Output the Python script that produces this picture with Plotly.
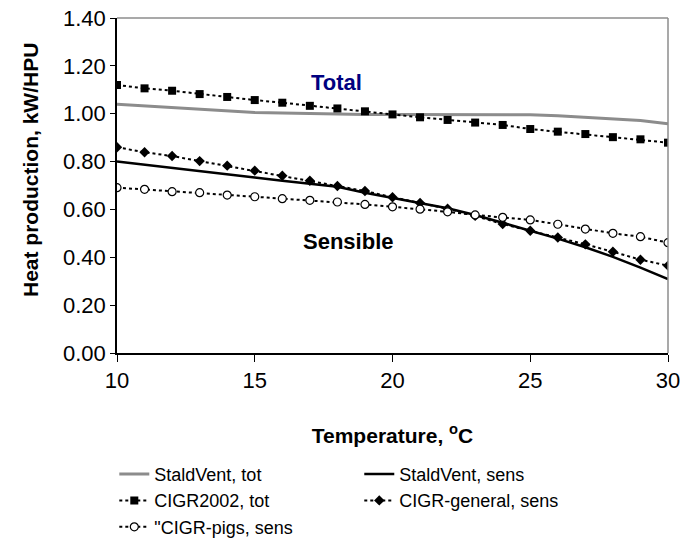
import plotly.graph_objects as go

temps = list(range(10, 31))

staldvent_tot = [1.040, 1.033, 1.025, 1.018, 1.011, 1.005, 1.003, 1.000, 0.998, 0.997,
                 0.997, 0.997, 0.997, 0.997, 0.997, 0.996, 0.992, 0.986, 0.980, 0.972, 0.958]
staldvent_sens = [0.800, 0.786, 0.772, 0.760, 0.747, 0.733, 0.720, 0.708, 0.695, 0.670,
                  0.648, 0.628, 0.605, 0.577, 0.545, 0.512, 0.478, 0.442, 0.402, 0.357, 0.309]
cigr2002_tot = [1.120, 1.106, 1.096, 1.082, 1.070, 1.057, 1.046, 1.033, 1.022, 1.010,
                0.997, 0.985, 0.974, 0.963, 0.953, 0.936, 0.925, 0.915, 0.902, 0.893, 0.879]
cigr_general_sens = [0.860, 0.839, 0.823, 0.802, 0.783, 0.762, 0.741, 0.720, 0.698, 0.677,
                     0.651, 0.627, 0.603, 0.573, 0.539, 0.511, 0.483, 0.454, 0.423, 0.390, 0.365]
cigr_pigs_sens = [0.691, 0.684, 0.674, 0.670, 0.660, 0.653, 0.645, 0.638, 0.631, 0.621,
                  0.611, 0.601, 0.590, 0.577, 0.567, 0.556, 0.538, 0.518, 0.500, 0.486, 0.461]

x_ticks = [10, 15, 20, 25, 30]
y_ticks = [0.0, 0.2, 0.4, 0.6, 0.8, 1.0, 1.2, 1.4]
y_tick_labels = ["0.00", "0.20", "0.40", "0.60", "0.80", "1.00", "1.20", "1.40"]

FONT = "Liberation Sans, Arial, sans-serif"

fig = go.Figure()
fig.add_trace(go.Scatter(x=temps, y=staldvent_tot, name="StaldVent, tot", mode="lines",
                         line=dict(color="#8c8c8c", width=3), legend="legend"))
fig.add_trace(go.Scatter(x=temps, y=staldvent_sens, name="StaldVent, sens", mode="lines",
                         line=dict(color="black", width=2.5), legend="legend2"))
fig.add_trace(go.Scatter(x=temps, y=cigr2002_tot, name="CIGR2002, tot", mode="lines+markers",
                         line=dict(color="black", width=2, dash="dot"),
                         marker=dict(symbol="square", size=8, color="black"), legend="legend"))
fig.add_trace(go.Scatter(x=temps, y=cigr_general_sens, name="CIGR-general, sens", mode="lines+markers",
                         line=dict(color="black", width=2, dash="dot"),
                         marker=dict(symbol="diamond", size=8, color="black"), legend="legend2"))
fig.add_trace(go.Scatter(x=temps, y=cigr_pigs_sens, name="\"CIGR-pigs, sens", mode="lines+markers",
                         line=dict(color="black", width=2, dash="dot"),
                         marker=dict(symbol="circle", size=8, color="white",
                                     line=dict(color="black", width=1.2)), legend="legend"))

fig.update_layout(
    width=684, height=538,
    margin=dict(l=117, r=16, t=18, b=185),
    paper_bgcolor="white", plot_bgcolor="white",
    font=dict(family=FONT, color="black"),
    xaxis=dict(range=[10, 30], tickvals=x_ticks, ticks="outside", ticklen=7, tickcolor="black",
               showline=True, linecolor="black", linewidth=1.5, showgrid=False, zeroline=False,
               tickfont=dict(size=22), automargin=False,
               title=dict(text="<b>Temperature, <sup>o</sup>C</b>", font=dict(size=21), standoff=36)),
    yaxis=dict(range=[0, 1.4], tickvals=y_ticks, ticktext=y_tick_labels, ticks="outside", ticklen=5,
               tickcolor="black", showline=True, linecolor="black", linewidth=1.5, showgrid=False,
               zeroline=False, tickfont=dict(size=22), automargin=False),
    legend=dict(xref="paper", yref="container", x=-0.0049, y=0.15279,
                xanchor="left", yanchor="top", orientation="v",
                font=dict(size=18), bgcolor="rgba(0,0,0,0)"),
    legend2=dict(xref="paper", yref="container", x=0.4397, y=0.15279,
                 xanchor="left", yanchor="top", orientation="v",
                 font=dict(size=18), bgcolor="rgba(0,0,0,0)"),
    shapes=[
        dict(type="line", xref="paper", yref="paper", x0=0, x1=1, y0=1, y1=1,
             line=dict(color="#8c8c8c", width=1.5)),
        dict(type="line", xref="paper", yref="paper", x0=1, x1=1, y0=0, y1=1,
             line=dict(color="#8c8c8c", width=1.5)),
    ],
    annotations=[
        dict(x=-0.158, y=0.546, xref="paper", yref="paper", text="<b>Heat production, kW/HPU</b>",
             textangle=-90, showarrow=False, xanchor="center", yanchor="middle",
             font=dict(size=21, color="black")),
        dict(x=17.95, y=1.132, xref="x", yref="y", text="<b>Total</b>", showarrow=False,
             font=dict(size=22, color="#000080")),
        dict(x=18.38, y=0.464, xref="x", yref="y", text="<b>Sensible</b>", showarrow=False,
             font=dict(size=22, color="black")),
    ],
)

fig.write_html("out.html", config={"displayModeBar": False},
               post_script="document.body.style.margin='0px';")
